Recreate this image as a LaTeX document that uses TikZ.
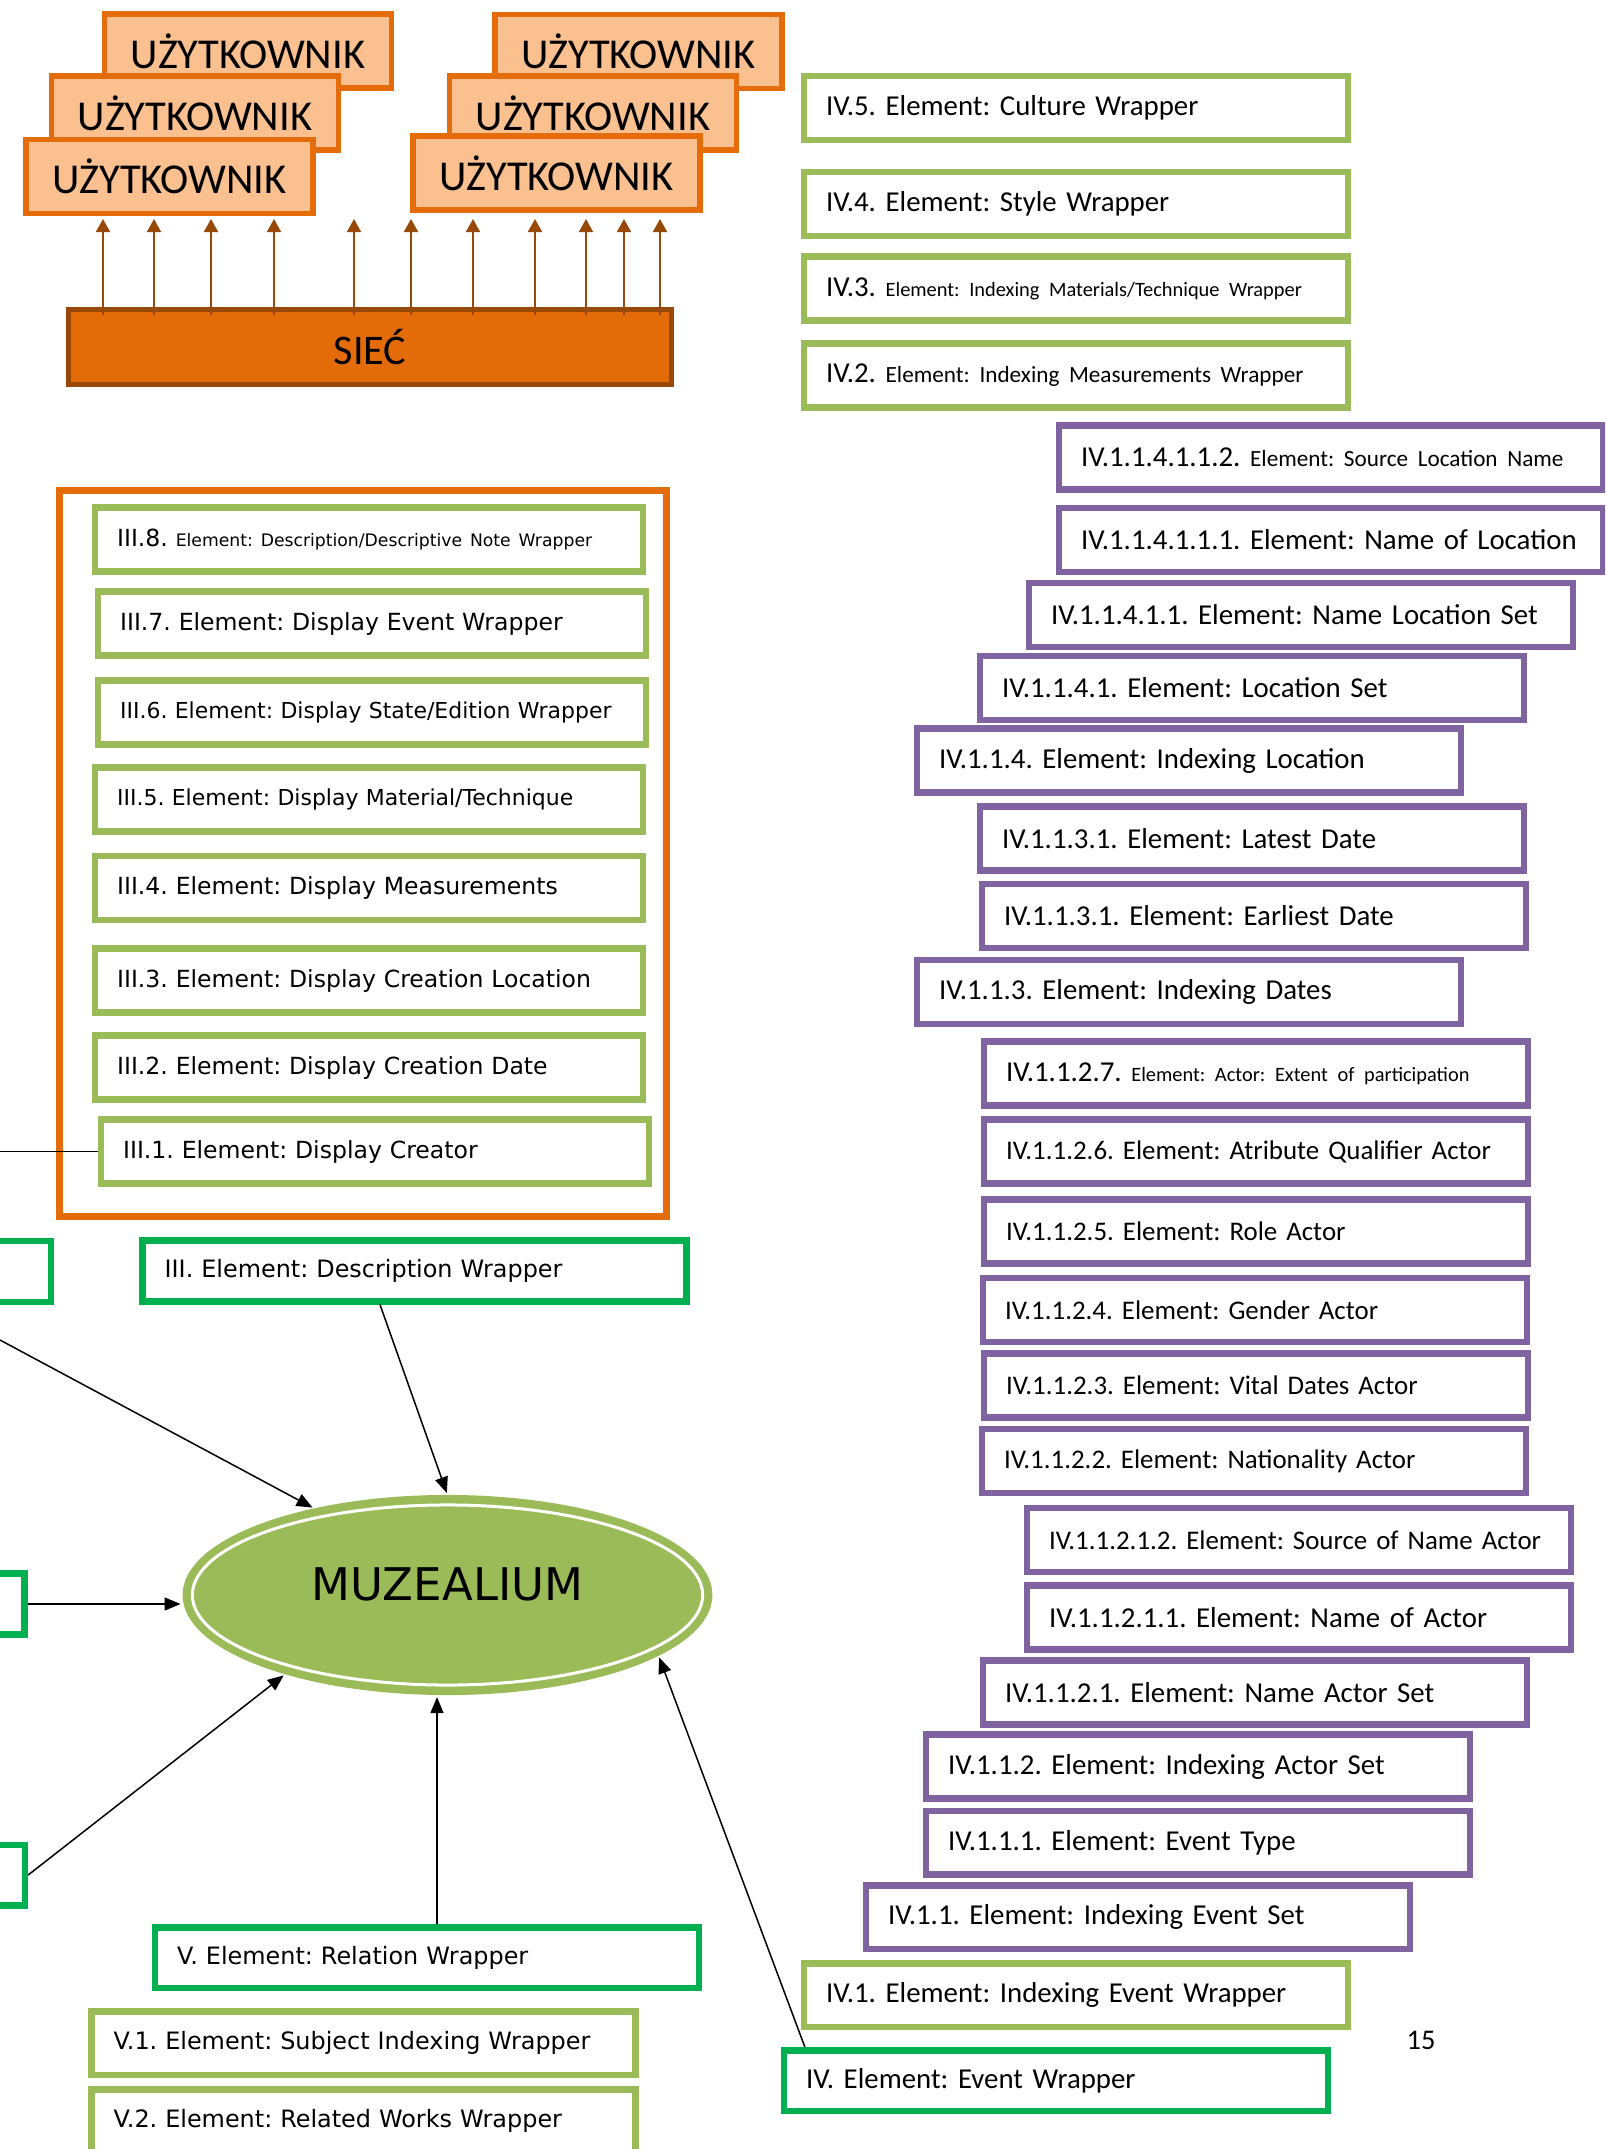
\documentclass[tikz,border=0pt]{standalone}
\usepackage{fontspec}
\newfontfamily\calibrifont{Carlito}
\newfontfamily\verdanafont{DejaVu Sans}
\usetikzlibrary{calc, arrows.meta, shapes.geometric}

\definecolor{olivegreen}{HTML}{9BBB59}
\definecolor{leafgreen}{HTML}{00B050}
\definecolor{lilac}{HTML}{8064A2}
\definecolor{pumpkin}{HTML}{E46C0A}
\definecolor{peach}{HTML}{FAC090}
\definecolor{rust}{HTML}{984807}
\definecolor{netorange}{HTML}{E36C09}

\newcommand{\lessercal}[1]{{\fontsize{5.8}{7}\selectfont #1}}
\newcommand{\midcal}[1]{{\fontsize{6.6}{8}\selectfont #1}}
\newcommand{\lesserver}[1]{{\fontsize{4.9}{6}\selectfont #1}}

\begin{document}
\frenchspacing
\begin{tikzpicture}[x=0.01cm, y=-0.01cm,
	elem/.style={rectangle, fill=white, line width=0.065cm, minimum width=5.435cm,
		minimum height=0.635cm, text width=4.995cm, inner xsep=0.22cm, inner ysep=0pt, align=left,
		execute at begin node={\hbox\bgroup}, execute at end node={\egroup}},
	cal/.style={font=\calibrifont\fontsize{8.2}{10}\selectfont},
	narrowcal/.style={font=\calibrifont\fontsize{7.65}{9}\selectfont},
	ver/.style={font=\verdanafont\fontsize{6.8}{8}\selectfont},
	narrowver/.style={font=\verdanafont\fontsize{6.25}{8}\selectfont},
	ivbox/.style={elem, cal, draw=olivegreen},
	setbox/.style={elem, cal, draw=lilac},
	iiibox/.style={elem, font=\verdanafont\fontsize{6.7}{8}\selectfont, draw=olivegreen,
		minimum width=5.475cm, text width=5.035cm},
	vbox/.style={elem, ver, draw=olivegreen},
	wrapbox/.style={elem, draw=leafgreen, minimum height=0.605cm},
	userbox/.style={rectangle, draw=pumpkin, fill=peach, line width=0.055cm, minimum width=2.865cm,
		minimum height=0.735cm, font=\calibrifont\fontsize{12.1}{14}\selectfont},
	netarr/.style={draw=rust, line width=0.02cm, -{Triangle[length=0.13cm, width=0.14cm]}},
	link/.style={line width=0.015cm},
	arr/.style={link, shorten >=0.02cm, -{Triangle[length=0.16cm, width=0.13cm]}}]

\useasboundingbox (0,0) rectangle (1605,2149);
\clip (0,0) rectangle (1605,2149);

% users and network
\node[userbox] (ul1) at (248,51) {UŻYTKOWNIK};
\node[userbox] (ul2) at (195,113) {UŻYTKOWNIK};
\node[userbox] (ul3) at (169.5,176.5) {UŻYTKOWNIK};
\node[userbox] (ur1) at (638.5,51.5) {UŻYTKOWNIK};
\node[userbox] (ur2) at (593,113) {UŻYTKOWNIK};
\node[userbox] (ur3) at (556.5,173) {UŻYTKOWNIK};

\node[draw=rust, fill=netorange, line width=0.05cm, minimum width=6.03cm, minimum height=0.75cm,
	font=\calibrifont\fontsize{12}{14}\selectfont] (siec) at (370,347) {SIEĆ};

\coordinate (nettop) at ([yshift=-0.08cm]siec.north);
\coordinate (userbase) at ([yshift=-0.03cm]ul3.south);
\foreach \x in {103,154,211,274,354,411,473,535,586,624,660}
	\draw[netarr] (nettop -| \x,0) -- (userbase -| \x,0);

% right column
\node[ivbox] (iv5) at (1076,108) {IV.5. Element: Culture Wrapper};
\node[ivbox] (iv4) at (1076,204) {IV.4. Element: Style Wrapper};
\node[ivbox] (iv3) at (1076,288.5) {IV.3. \lessercal{Element: Indexing Materials/Technique Wrapper}};
\node[ivbox] (iv2) at (1076,375.5) {IV.2. \midcal{Element: Indexing Measurements Wrapper}};

\node[setbox] (srcloc) at (1331,457.5) {IV.1.1.4.1.1.2. \midcal{Element: Source Location Name}};
\node[setbox] (nameloc) at (1331,540) {IV.1.1.4.1.1.1. Element: Name of Location};
\node[setbox] (namelocset) at (1301,615) {IV.1.1.4.1.1. Element: Name Location Set};
\node[setbox] (locset) at (1252,688) {IV.1.1.4.1. Element: Location Set};
\node[setbox] (idxloc) at (1189,760.5) {IV.1.1.4. Element: Indexing Location};
\node[setbox] (latest) at (1252,838.5) {IV.1.1.3.1. Element: Latest Date};
\node[setbox] (earliest) at (1254,916) {IV.1.1.3.1. Element: Earliest Date};
\node[setbox] (idxdates) at (1189,992) {IV.1.1.3. Element: Indexing Dates};
\node[setbox] (extent) at (1256,1073.5) {IV.1.1.2.7. \lessercal{Element: Actor: Extent of participation}};
\node[setbox, narrowcal] (qualifier) at (1256,1151.5) {IV.1.1.2.6. Element: Atribute Qualifier Actor};
\node[setbox, narrowcal] (role) at (1256,1231.5) {IV.1.1.2.5. Element: Role Actor};
\node[setbox, narrowcal] (gender) at (1255,1310) {IV.1.1.2.4. Element: Gender Actor};
\node[setbox, narrowcal] (vital) at (1256,1385.5) {IV.1.1.2.3. Element: Vital Dates Actor};
\node[setbox, narrowcal] (nation) at (1254,1461) {IV.1.1.2.2. Element: Nationality Actor};
\node[setbox, narrowcal] (srcname) at (1299,1540) {IV.1.1.2.1.2. Element: Source of Name Actor};
\node[setbox] (actorname) at (1299,1617.5) {IV.1.1.2.1.1. Element: Name of Actor};
\node[setbox] (nameset) at (1255,1692.5) {IV.1.1.2.1. Element: Name Actor Set};
\node[setbox] (actorset) at (1198,1766.5) {IV.1.1.2. Element: Indexing Actor Set};
\node[setbox] (evtype) at (1198,1842.5) {IV.1.1.1. Element: Event Type};
\node[setbox] (evset) at (1138,1917) {IV.1.1. Element: Indexing Event Set};
\node[ivbox] (iv1) at (1076,1995) {IV.1. Element: Indexing Event Wrapper};
\node[wrapbox, cal] (ivwrap) at (1056,2080.5) {IV. Element: Event Wrapper};

\node[font=\calibrifont\fontsize{8.1}{10}\selectfont] (pagenum) at (1421,2040) {15};

% description group
\node[draw=pumpkin, line width=0.075cm, minimum width=6.065cm, minimum height=7.255cm] (descgroup) at (363,853.5) {};

\node[iiibox] (iii8) at (369,539.5) {III.8. \lesserver{Element: Description/Descriptive Note Wrapper}};
\node[iiibox] (iii7) at (372,623.5) {III.7. Element: Display Event Wrapper};
\node[iiibox, narrowver] (iii6) at (372,712.5) {III.6. Element: Display State/Edition Wrapper};
\node[iiibox, narrowver] (iii5) at (369,799.5) {III.5. Element: Display Material/Technique};
\node[iiibox] (iii4) at (369,888) {III.4. Element: Display Measurements};
\node[iiibox] (iii3) at (369,980.5) {III.3. Element: Display Creation Location};
\node[iiibox] (iii2) at (369,1067.5) {III.2. Element: Display Creation Date};
\node[iiibox] (iii1) at (375,1151.5) {III.1. Element: Display Creator};

% wrappers round the object
\node[wrapbox] (wraptop) at (-221,1271.5) {};
\node[wrapbox] (wrapmid) at (-247.5,1604) {};
\node[wrapbox] (wraplow) at (-247,1875) {};
\node[wrapbox, ver] (desc) at (414.5,1271) {III. Element: Description Wrapper};
\node[wrapbox, ver] (vrel) at (427,1957.5) {V. Element: Relation Wrapper};
\node[vbox] (v1) at (363.5,2043) {V.1. Element: Subject Indexing Wrapper};
\node[vbox] (v2) at (363.5,2121) {V.2. Element: Related Works Wrapper};

\node[ellipse, fill=olivegreen, draw=olivegreen, line width=0.06cm, inner sep=0pt,
	minimum width=5.235cm, minimum height=1.94cm] (muz) at (447.5,1595) {};
\draw[white, line width=0.03cm] (muz.center) ellipse [x radius=2.55cm, y radius=0.9cm];
\node[font=\verdanafont\fontsize{12.8}{15}\selectfont] (muzlabel) at ([yshift=0.11cm]muz.center) {MUZEALIUM};

\coordinate (offside) at (0,1340);
\coordinate (relup) at ([xshift=0.1cm]vrel.north);
\draw[link] (iii1.west -| offside) -- (iii1.west);
\draw[arr] (offside) -- (muz.147);
\draw[arr] ([xshift=-0.345cm]desc.south) -- (muz.north);
\draw[arr] (wrapmid.east) -- (wrapmid.east -| muz.west);
\draw[arr] (wraplow.east) -- (muz.206);
\draw[arr] (relup) -- (relup |- muz.south);
\draw[arr] ($(ivwrap.north west)+(24,0)$) -- (muz.344);

\end{tikzpicture}
\end{document}
